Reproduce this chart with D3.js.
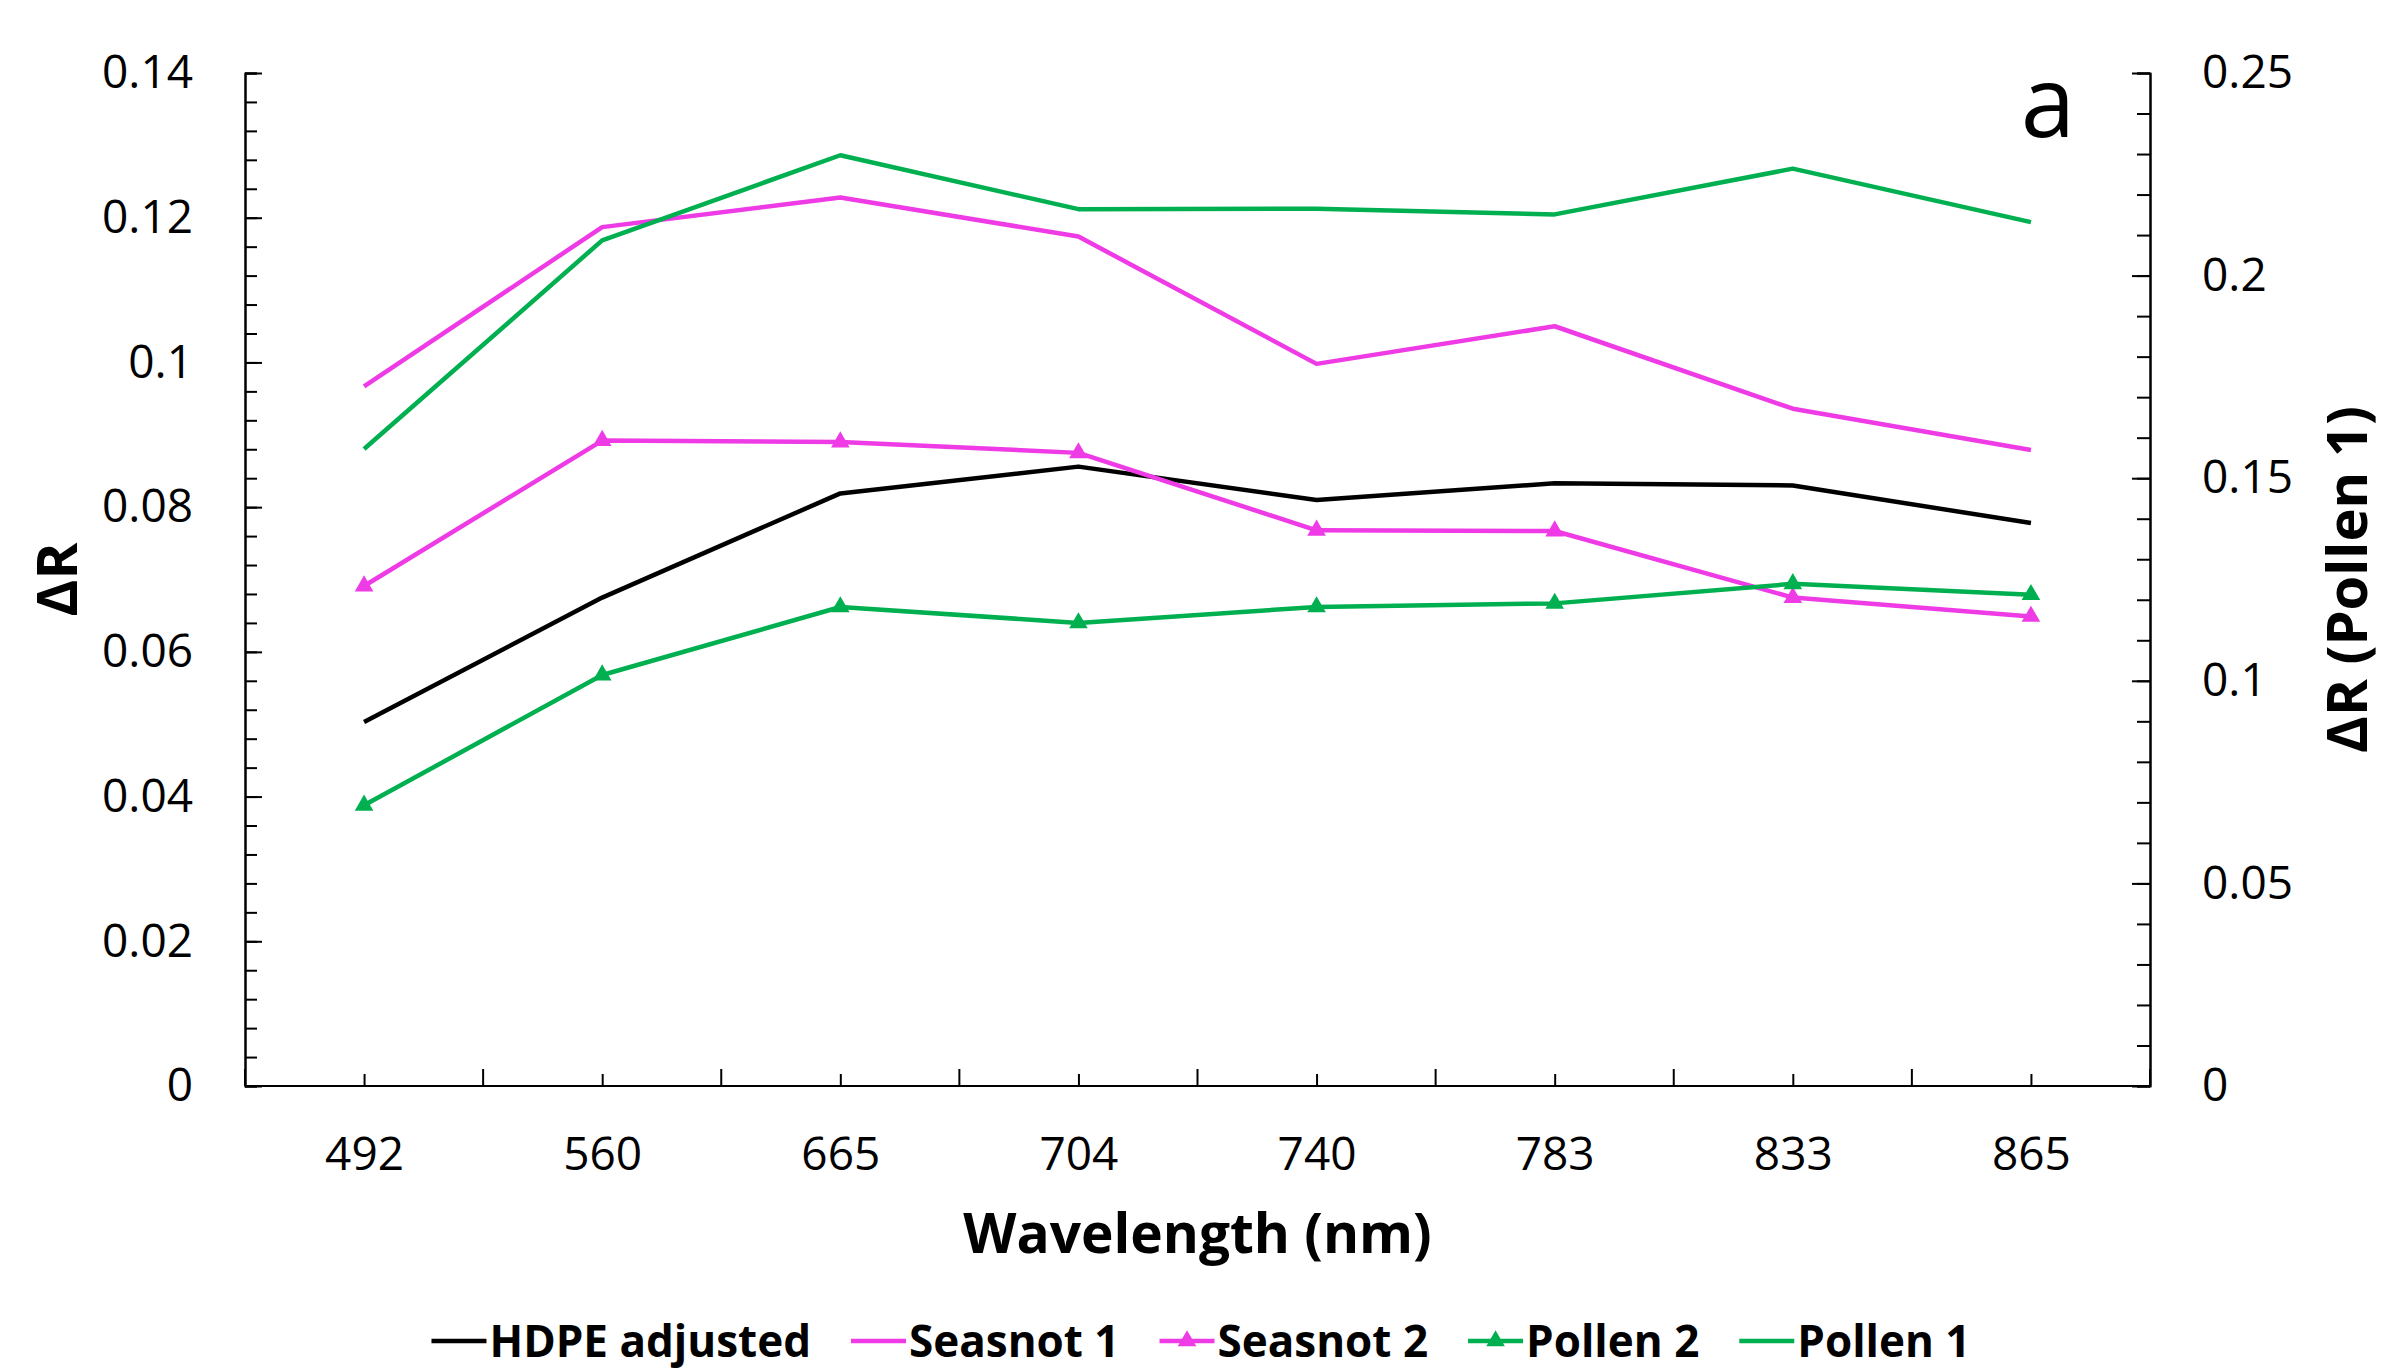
<!DOCTYPE html>
<html>
<head>
<meta charset="utf-8">
<script src="https://cdn.jsdelivr.net/npm/d3@7"></script>
<style>
  body { margin: 0; background: #fff; }
  svg { display: block; font-family: "Open Sans", sans-serif; }
  .axis path, .axis line { stroke: #000; stroke-width: 2; }
  .axis text { font-size: 46px; fill: #000; font-family: "Open Sans", sans-serif; }
</style>
</head>
<body>
<svg id="chart" width="2383" height="1369"></svg>
<script>
// wavelengths on the x axis
let wavelengths = ["492", "560", "665", "704", "740", "783", "833", "865"];

// series values (primary axis)
let hdpeAdjusted = [0.0503, 0.0675, 0.0819, 0.0856, 0.0810, 0.0833, 0.0830, 0.0778];
let seasnot1 = [0.0967, 0.1187, 0.1228, 0.1174, 0.0998, 0.1050, 0.0936, 0.0879];
let seasnot2 = [0.0691, 0.0892, 0.0890, 0.0875, 0.0768, 0.0767, 0.0675, 0.0649];
let pollen2 = [0.0388, 0.0568, 0.0662, 0.0640, 0.0662, 0.0667, 0.0694, 0.0679];
// secondary axis
let pollen1 = [0.1572, 0.2087, 0.2297, 0.2164, 0.2165, 0.2151, 0.2264, 0.2132];

let leftTicks = [0, 0.02, 0.04, 0.06, 0.08, 0.1, 0.12, 0.14];
let rightTicks = [0, 0.05, 0.1, 0.15, 0.2, 0.25];

let series = [
    {name: "HDPE adjusted", values: hdpeAdjusted, color: "#000000", marker: false, axis: "left"},
    {name: "Seasnot 1", values: seasnot1, color: "#EE3BE6", marker: false, axis: "left"},
    {name: "Seasnot 2", values: seasnot2, color: "#EE3BE6", marker: true, axis: "left"},
    {name: "Pollen 2", values: pollen2, color: "#00B050", marker: true, axis: "left"},
    {name: "Pollen 1", values: pollen1, color: "#00B050", marker: false, axis: "right"}
];

let plotLeft = 245, plotRight = 2150, plotTop = 73, plotBottom = 1086;
let svg = d3.select("#chart");

let x = d3.scaleBand().domain(wavelengths).range([plotLeft, plotRight]);
let xc = d3.scalePoint().domain(wavelengths)
    .range([plotLeft + x.bandwidth() / 2, plotRight - x.bandwidth() / 2]);
let yL = d3.scaleLinear().domain([0, 0.14]).range([plotBottom, plotTop]);
let yR = d3.scaleLinear().domain([0, 0.25]).range([plotBottom, plotTop]);

// left axis: minor then major ticks, all pointing inside
svg.append("g")
    .attr("class", "axis")
    .attr("transform", "translate(" + plotLeft + ",0)")
    .call(d3.axisLeft(yL).tickValues(d3.range(0, 0.1401, 0.004)).tickSize(-12).tickFormat(""));
svg.append("g")
    .attr("class", "axis")
    .attr("transform", "translate(" + plotLeft + ",0)")
    .call(d3.axisLeft(yL).tickValues(leftTicks).tickSizeInner(-17).tickSizeOuter(0).tickPadding(52)
        .tickFormat(d => String(d)));

// right axis
svg.append("g")
    .attr("class", "axis")
    .attr("transform", "translate(" + plotRight + ",0)")
    .call(d3.axisRight(yR).tickValues(d3.range(0, 0.2501, 0.01)).tickSize(-13).tickFormat(""));
svg.append("g")
    .attr("class", "axis")
    .attr("transform", "translate(" + plotRight + ",0)")
    .call(d3.axisRight(yR).tickValues(rightTicks).tickSizeInner(-18).tickSizeOuter(0).tickPadding(52)
        .tickFormat(d => String(d)));

// x axis: short ticks at categories, long ticks at band edges
let xAxis = svg.append("g")
    .attr("class", "axis")
    .attr("transform", "translate(0," + plotBottom + ")")
    .call(d3.axisBottom(xc).tickSizeInner(-12).tickSizeOuter(0).tickPadding(51));
xAxis.select(".domain").attr("d", "M" + plotLeft + ",0H" + plotRight);
xAxis.selectAll(".edge")
    .data(wavelengths.map(d => x(d)).concat([plotRight]))
    .enter()
    .append("line")
    .attr("x1", d => d).attr("x2", d => d)
    .attr("y1", 0).attr("y2", -17)
    .attr("stroke", "#000").attr("stroke-width", 2);

// lines
let tri = d3.symbol().type(d3.symbolTriangle).size(150);
series.forEach(function(s) {
    let yScale = s.axis === "left" ? yL : yR;
    let line = d3.line()
        .x((d, i) => xc(wavelengths[i]))
        .y(d => yScale(d));
    svg.append("path")
        .datum(s.values)
        .attr("d", line)
        .attr("fill", "none")
        .attr("stroke", s.color)
        .attr("stroke-width", 4.5)
        .attr("stroke-linejoin", "round");
    if (s.marker) {
        svg.selectAll(null)
            .data(s.values)
            .enter()
            .append("path")
            .attr("d", tri)
            .attr("transform", (d, i) => "translate(" + xc(wavelengths[i]) + "," + yScale(d) + ")")
            .attr("fill", s.color);
    }
});

// titles
svg.append("text")
    .attr("x", (plotLeft + plotRight) / 2).attr("y", 1253)
    .attr("text-anchor", "middle")
    .style("font-size", "55px").style("font-weight", "bold")
    .text("Wavelength (nm)");
svg.append("text")
    .attr("transform", "translate(77," + (plotTop + plotBottom) / 2 + ") rotate(-90)")
    .attr("text-anchor", "middle")
    .style("font-size", "56px").style("font-weight", "bold")
    .text("ΔR");
svg.append("text")
    .attr("transform", "translate(2367," + (plotTop + plotBottom) / 2 + ") rotate(-90)")
    .attr("text-anchor", "middle")
    .style("font-size", "56px").style("font-weight", "bold")
    .text("ΔR (Pollen 1)");
svg.append("text")
    .attr("x", 2048).attr("y", 137)
    .attr("text-anchor", "middle")
    .style("font-size", "98px")
    .text("a");

// legend
let legend = svg.append("g");
let lx = 0, ly = 1341;
series.forEach(function(s) {
    let g = legend.append("g").attr("transform", "translate(" + lx + ",0)");
    g.append("line")
        .attr("x1", 0).attr("x2", 55)
        .attr("y1", ly).attr("y2", ly)
        .attr("stroke", s.color).attr("stroke-width", 4.5);
    if (s.marker) {
        g.append("path").attr("d", tri)
            .attr("transform", "translate(27.5," + ly + ")")
            .attr("fill", s.color);
    }
    let t = g.append("text")
        .attr("x", 58).attr("y", 1357)
        .style("font-size", "44px").style("font-weight", "bold")
        .text(s.name);
    lx += 58 + t.node().getComputedTextLength() + 40;
});
let legendWidth = lx - 40;
legend.attr("transform", "translate(" + (1201 - legendWidth / 2) + ",0)");
</script>
</body>
</html>
